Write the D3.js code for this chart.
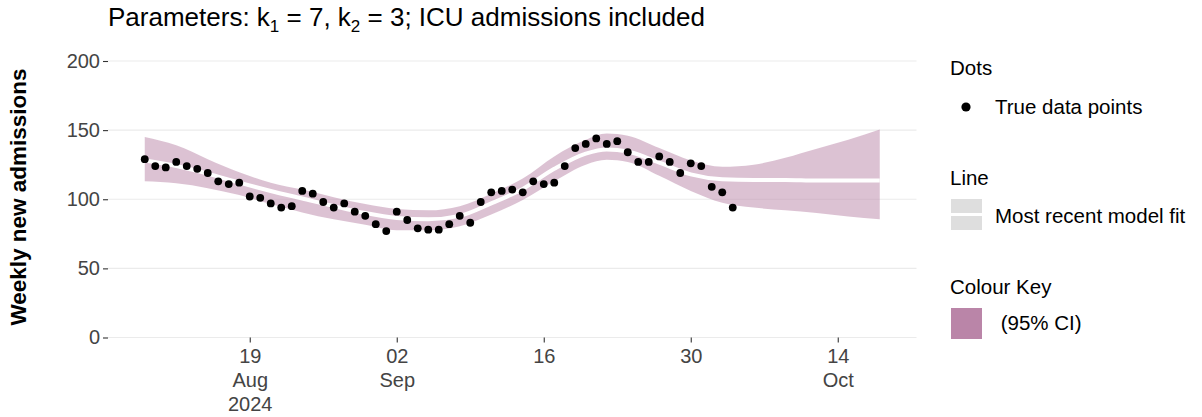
<!DOCTYPE html>
<html><head><meta charset="utf-8">
<script src="https://cdn.jsdelivr.net/npm/d3@7"></script>
<style>body{margin:0;background:#fff;} text{font-family:"Liberation Sans",Arial,sans-serif;}</style>
</head><body>
<svg id="c" width="1202" height="417"></svg>
<script>
// ---- data ----
const dotStart = "2024-08-09";
const dotValues = [129,124,123,127,124,122,119,113,111,112,102,101,97,94,95,106,104,98,94,97,91,88,82,77,91,85,79,78,78,82,88,83,98,105,106,107,105,113,111,112,124,137,140,144,140,142,134,127,127,131,127,119,126,124,109,105,94];
const bandDates = ["2024-08-09","2024-08-12","2024-08-15","2024-08-18","2024-08-21","2024-08-24","2024-08-27","2024-08-30","2024-09-02","2024-09-05","2024-09-08","2024-09-11","2024-09-14","2024-09-17","2024-09-20","2024-09-22","2024-09-24","2024-09-27","2024-09-30","2024-10-03","2024-10-06","2024-10-09","2024-10-12","2024-10-15","2024-10-18"];
const bandUpper = [145,139,129,119.5,112,107,101.5,96.5,93,92,95,104,115,131,143,147.5,146,137,128,123.5,125,130,136.5,143,150.5];
const bandMid   = [128,124,118.5,112,106,100.5,95,90,86.5,85.5,88,97,107.5,122,133,136,134.5,126.5,118,114.5,114,114,113.5,113.5,113.5];
const bandLower = [113,111.5,108,103,96.5,90.5,85.5,81.5,77.5,77.5,80.5,89,99.5,113,125,128.5,127,117,106,97.5,94,92,90,87.5,85.5];
const yTicks = [0,50,100,150,200];
const xTickDates = ["2024-08-19","2024-09-02","2024-09-16","2024-09-30","2024-10-14"];
const xTickLabels = [["19","Aug","2024"],["02","Sep"],["16"],["30"],["14","Oct"]];
const titleParts = [["Parameters: k",""],["1","sub"],[" = 7, k",""],["2","sub"],[" = 3; ICU admissions included",""]];
const yTitle = "Weekly new admissions";
const legendDots = {title:"Dots", label:"True data points"};
const legendLine = {title:"Line", label:"Most recent model fit"};
const legendColour = {title:"Colour Key", label:" (95% CI)"};
const ciColour = "#BA85A8";

// ---- chart ----
const svg = d3.select("#c");
const parse = d3.utcParse("%Y-%m-%d");
const d0 = parse(dotStart);
const dotDates = d3.utcDay.range(d0, d3.utcDay.offset(d0, dotValues.length));
const bD = bandDates.map(parse);
const x = d3.scaleUtc()
  .domain([d3.utcHour.offset(bD[0], -84), d3.utcHour.offset(bD[bD.length-1], 84)])
  .range([108, 916.5]);
const y = d3.scaleLinear().domain([0,200]).range([337.5, 61]);

// gridlines
svg.append("g").selectAll("line").data(yTicks).join("line")
  .attr("x1",108).attr("x2",916.5).attr("y1",d=>y(d)).attr("y2",d=>y(d))
  .attr("stroke","#EBEBEB").attr("stroke-width",1.1);

// y axis
const ya = svg.append("g").attr("transform","translate(108,0)")
  .call(d3.axisLeft(y).tickValues(yTicks).tickSize(5).tickPadding(3));
ya.select(".domain").remove();
ya.selectAll("line").attr("stroke","#333").attr("stroke-width",1.1);
ya.selectAll("text").attr("font-size",20).attr("fill","#444")
  .attr("font-family","Liberation Sans, Arial, sans-serif");

// x axis
const xa = svg.append("g").attr("transform","translate(0,337.5)")
  .call(d3.axisBottom(x).tickValues(xTickDates.map(parse)).tickSize(5).tickFormat(""));
xa.select(".domain").remove();
xa.selectAll("line").attr("stroke","#333").attr("stroke-width",1.1);
xa.selectAll(".tick").each(function(d,i){
  const t = d3.select(this).append("text").attr("fill","#444")
    .attr("font-size",20).attr("text-anchor","middle")
    .attr("font-family","Liberation Sans, Arial, sans-serif");
  xTickLabels[i].forEach((s,k)=>{
    t.append("tspan").attr("x",0).attr("y",25.5 + k*24).text(s);
  });
});

// ribbon
const bandData = bD.map((d,i)=>({d, u:bandUpper[i], m:bandMid[i], l:bandLower[i]}));
svg.append("path").datum(bandData)
  .attr("d", d3.area().x(p=>x(p.d)).y0(p=>y(p.l)).y1(p=>y(p.u)).curve(d3.curveMonotoneX))
  .attr("fill", ciColour).attr("fill-opacity",0.5);
svg.append("path").datum(bandData)
  .attr("d", d3.line().x(p=>x(p.d)).y(p=>y(p.m)).curve(d3.curveMonotoneX))
  .attr("fill","none").attr("stroke","#fff").attr("stroke-width",4);

// dots
svg.append("g").selectAll("circle").data(dotValues).join("circle")
  .attr("cx",(v,i)=>x(dotDates[i])).attr("cy",v=>y(v)).attr("r",3.9).attr("fill","#000");

// title
const tt = svg.append("text").attr("x",108).attr("y",32).attr("font-size",26).attr("fill","#000");
titleParts.forEach(([s,k])=>{
  if(k==="sub") tt.append("tspan").attr("font-size",17).attr("dy",6).text(s);
  else tt.append("tspan").attr("dy", tt.selectAll("tspan").size()? -6:0).text(s);
});

// y title
svg.append("text").attr("transform","translate(26,197) rotate(-90)")
  .attr("text-anchor","middle").attr("font-weight","bold").attr("font-size",22.5)
  .attr("fill","#000").text(yTitle);

// legend
const lg = svg.append("g");
function ltext(xp, yp, s){ return lg.append("text").attr("x",xp).attr("y",yp).attr("font-size",20.5).attr("fill","#000").text(s); }
ltext(950, 75, legendDots.title);
lg.append("circle").attr("cx",966).attr("cy",107).attr("r",4.6).attr("fill","#000");
ltext(995, 114, legendDots.label);
ltext(950, 185, legendLine.title);
lg.append("rect").attr("x",951).attr("y",199).attr("width",31).attr("height",31).attr("fill","#DEDEDE");
lg.append("line").attr("x1",951).attr("x2",982).attr("y1",214.5).attr("y2",214.5).attr("stroke","#fff").attr("stroke-width",3);
ltext(995, 222.5, legendLine.label);
ltext(950, 294, legendColour.title);
lg.append("rect").attr("x",951).attr("y",308).attr("width",31).attr("height",31).attr("fill",ciColour);
ltext(995, 330, legendColour.label).style("white-space","pre");
</script>
</body></html>
